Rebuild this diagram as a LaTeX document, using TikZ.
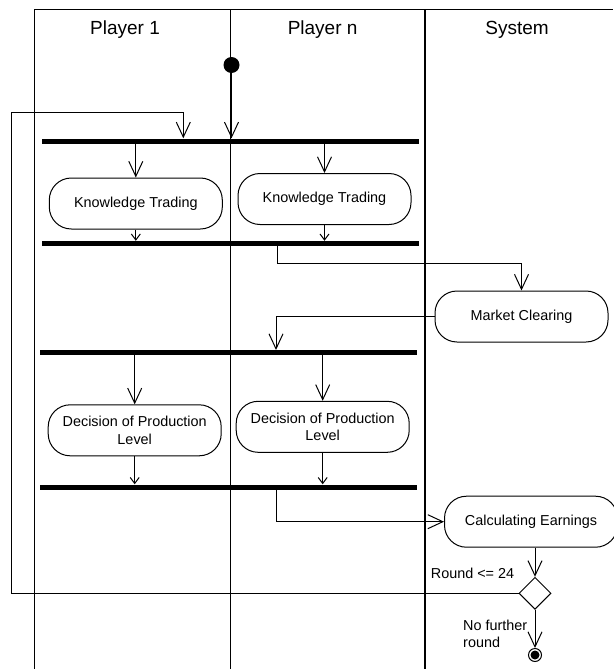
\documentclass[tikz,border=0pt]{standalone}
\usepackage{fontspec}
\setmainfont{Liberation Sans}
\usetikzlibrary{shapes.geometric}
\usetikzlibrary{positioning}
\usetikzlibrary{arrows.meta}
\tikzset{action/.style={draw, line width=1pt, rounded corners=22pt, minimum width=173pt, minimum height=51pt, align=center, font=\fontsize{14.4}{17.3}\selectfont},
         bar/.style={fill=black, inner sep=0pt, minimum width=377pt, minimum height=5pt},
         lane/.style={line width=1pt},
         flow/.style={line width=1pt, -{Straight Barb[length=15pt,width=14pt]}},
         shortflow/.style={line width=1pt, -{Straight Barb[length=6pt,width=9pt]}},
         header/.style={font=\fontsize{19}{23}\selectfont, anchor=base},
         guard/.style={font=\fontsize{14.4}{16.5}\selectfont, inner sep=0pt, align=left},
         start/.style={circle, fill=black, minimum size=16pt, inner sep=0pt},
         finish/.style={circle, draw, line width=1pt, minimum size=13pt, inner sep=0pt, path picture={\fill (path picture bounding box.center) circle (4.5pt);}},
         decision/.style={diamond, draw, line width=1pt, minimum width=32pt, minimum height=32pt, inner sep=0pt},
         }

\begin{document}
\begin{tikzpicture}[x=1pt, y=-1pt]
\useasboundingbox (0,0) rectangle (613,669);
\draw[lane] (34,9.5) -- (613,9.5);
\draw[lane] (34,9.5) -- (34,669);
\draw[lane] (230,9.5) -- (230,669);
\draw[lane, line width=2pt] (424.5,9.5) -- (424.5,669);
\node[header] (h1) at (125,35) {Player 1};
\node[header] (hn) at (322.6,35) {Player n};
\node[header] (hs) at (517,35) {System};

\node[start] (init) at (231.5,65) {};
\node[bar] (bar1) at (230.5,141) {};
\node[action] (kt1) at (135.8,203.5) {Knowledge Trading};
\node[action] (ktn) at (324.5,199) {Knowledge Trading};
\node[bar] (bar2) at (230.5,243.5) {};
\node[action] (mc) at (521.5,316.5) {Market Clearing};
\node[bar] (bar3) at (228.5,352.7) {};
\node[action] (dp1) at (134.7,430.3) {Decision of Production\\Level};
\node[action] (dpn) at (322.7,426.8) {Decision of Production\\Level};
\node[bar] (bar4) at (228.5,487) {};
\node[action] (ce) at (531,521.7) {Calculating Earnings};
\node[decision] (dec) at (535,593.3) {};
\node[finish] (end) at (535,655) {};
\node[guard, anchor=west] (g1) at (430.7,573) {Round <= 24};
\node[guard, anchor=north west] (g2) at (463,620) {No further\\round};

\coordinate (loopcorner) at (11,112);
\coordinate (loopin) at (183.3,112);
\coordinate (mcout) at (277.7,263);
\coordinate (mcin) at (276,316.5);
\coordinate (ceout) at (276,521.7);

\draw[flow] (init) -- (init |- bar1.north);
\draw[flow] (kt1 |- bar1.south) -- (kt1);
\draw[flow] (ktn |- bar1.south) -- (ktn);
\draw[shortflow] (kt1) -- (kt1 |- bar2.north);
\draw[shortflow] (ktn) -- (ktn |- bar2.north);
\draw[flow] (mcout |- bar2.south) -- (mcout) -| (mc);
\draw[flow] (mc) -- (mcin) -- (mcin |- bar3.north);
\draw[flow] (dp1 |- bar3.south) -- (dp1);
\draw[flow] (dpn |- bar3.south) -- (dpn);
\draw[shortflow] (dp1) -- (dp1 |- bar4.north);
\draw[shortflow] (dpn) -- (dpn |- bar4.north);
\draw[flow] (ceout |- bar4.south) -- (ceout) -- (ce);
\draw[flow] (dec |- ce.south) -- (dec);
\draw[flow] (dec) -- (end);
\draw[flow] (dec) -| (loopcorner) -- (loopin) -- (loopin |- bar1.north);
\end{tikzpicture}
\end{document}
